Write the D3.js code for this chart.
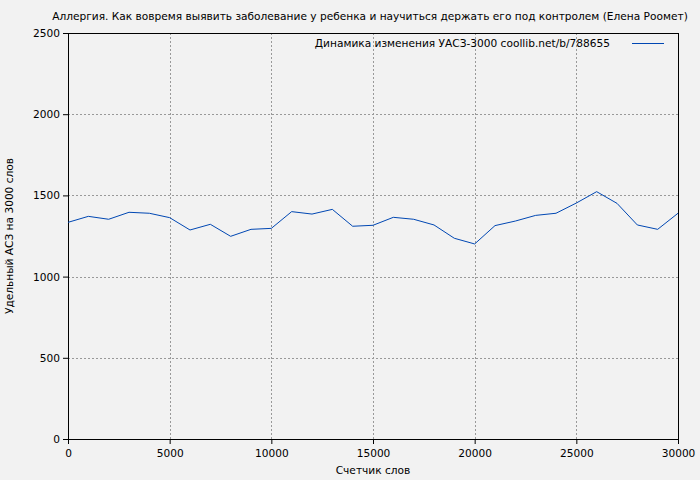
<!DOCTYPE html>
<html>
<head>
<meta charset="utf-8">
<script src="https://cdn.jsdelivr.net/npm/d3@7"></script>
<style>
  body { margin: 0; background: #f2f2f2; }
  svg text { font-family: "DejaVu Sans", Verdana, sans-serif; font-size: 10.6px; fill: #000; }
</style>
</head>
<body>
<svg width="700" height="480"></svg>
<script>
// word counter and specific ASZ per 3000 words
var words = [0, 1000, 2000, 3000, 4000, 5000, 6000, 7000, 8000, 9000, 10000,
             11000, 12000, 13000, 14000, 15000, 16000, 17000, 18000, 19000, 20000,
             21000, 22000, 23000, 24000, 25000, 26000, 27000, 28000, 29000, 30000];
var asz = [1334, 1371, 1353, 1396, 1390, 1363, 1287, 1322, 1248, 1291, 1297,
           1400, 1385, 1414, 1310, 1316, 1365, 1353, 1318, 1236, 1201,
           1314, 1342, 1377, 1390, 1453, 1523, 1451, 1318, 1291, 1390];
var xTicks = [0, 5000, 10000, 15000, 20000, 25000, 30000];
var yTicks = [0, 500, 1000, 1500, 2000, 2500];

var svg = d3.select("svg"),
    margin = {top: 33, right: 22, bottom: 41, left: 68},
    width = 700 - margin.left - margin.right,
    height = 480 - margin.top - margin.bottom;

var x = d3.scaleLinear().domain([0, 30000]).range([0, width]);
var y = d3.scaleLinear().domain([0, 2500]).range([height, 0]);

var g = svg.append("g").attr("transform", "translate(" + margin.left + "," + margin.top + ")");

// grid
g.append("g").selectAll("line").data(xTicks.slice(1, -1)).enter().append("line")
    .attr("x1", d => Math.round(x(d)) + 0.5).attr("x2", d => Math.round(x(d)) + 0.5)
    .attr("y1", 0).attr("y2", height)
    .attr("stroke", "#999").attr("stroke-dasharray", "2,2");
g.append("g").selectAll("line").data(yTicks.slice(1, -1)).enter().append("line")
    .attr("y1", d => Math.round(y(d)) + 0.5).attr("y2", d => Math.round(y(d)) + 0.5)
    .attr("x1", 0).attr("x2", width)
    .attr("stroke", "#999").attr("stroke-dasharray", "2,2");

// frame
g.append("rect").attr("x", 0.5).attr("y", 0.5).attr("width", width).attr("height", height)
    .attr("fill", "none").attr("stroke", "#000");

var xAxis = g.append("g").attr("transform", "translate(0," + height + ")")
    .call(d3.axisBottom(x).tickValues(xTicks).tickFormat(d3.format("d")).tickSizeOuter(0).tickSize(5));
var yAxis = g.append("g")
    .call(d3.axisLeft(y).tickValues(yTicks).tickFormat(d3.format("d")).tickSizeOuter(0).tickSize(5));
[xAxis, yAxis].forEach(function(a) {
    a.attr("font-family", null).attr("font-size", null);
    a.select(".domain").attr("stroke", "#000");
    a.selectAll(".tick line").attr("stroke", "#000");
});
xAxis.selectAll(".tick text").attr("dy", "0.9em");
yAxis.selectAll(".tick text").attr("x", -8);

// data line
g.append("path").datum(words)
    .attr("fill", "none").attr("stroke", "#0047b3").attr("stroke-width", 1)
    .attr("d", d3.line().x(d => x(d)).y((d, i) => y(asz[i])));

// legend
g.append("text").attr("x", width - 68).attr("y", 14).attr("text-anchor", "end")
    .text("Динамика изменения УАСЗ-3000 coollib.net/b/788655");
g.append("line").attr("x1", width - 46).attr("x2", width - 14).attr("y1", 10.5).attr("y2", 10.5)
    .attr("stroke", "#0047b3");

// titles
svg.append("text").attr("x", 370).attr("y", 20).attr("text-anchor", "middle")
    .text("Аллергия. Как вовремя выявить заболевание у ребенка и научиться держать его под контролем (Елена Роомет)");
svg.append("text").attr("x", margin.left + width / 2).attr("y", 474).attr("text-anchor", "middle")
    .text("Счетчик слов");
svg.append("text").attr("transform", "translate(13," + (margin.top + height / 2) + ") rotate(-90)")
    .attr("text-anchor", "middle").text("Удельный АСЗ на 3000 слов");
</script>
</body>
</html>
